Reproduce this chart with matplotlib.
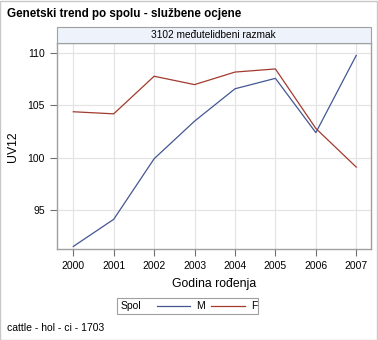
import matplotlib.pyplot as plt
from matplotlib.lines import Line2D
from matplotlib.patches import Rectangle

plt.rcParams['font.family'] = ['Liberation Sans', 'DejaVu Sans']

years = [2000, 2001, 2002, 2003, 2004, 2005, 2006, 2007]
uv12_m = [91.5, 94.1, 99.9, 103.5, 106.6, 107.6, 102.4, 109.8]
uv12_f = [104.4, 104.2, 107.8, 107.0, 108.2, 108.5, 102.8, 99.1]
yticks = [95, 100, 105, 110]

blue = '#445694'
red = '#a23a2e'
frame = '#a0a0a0'

fig = plt.figure(figsize=(3.78, 3.40), dpi=100)
ax = fig.add_axes([0.150, 0.2668, 0.831, 0.606])

ax.plot(years, uv12_m, color=blue, lw=0.9)
ax.plot(years, uv12_f, color=red, lw=0.9)

ax.set_xlim(1999.59, 2007.36)
ax.set_ylim(91.23, 110.96)
ax.set_xticks(years)
ax.set_yticks(yticks)
ax.grid(True, color='#e4e4e4', lw=0.9)
ax.set_axisbelow(True)
for s in ax.spines.values():
    s.set_color(frame)
    s.set_linewidth(1.0)
ax.tick_params(colors='#707070', labelcolor='black', labelsize=7.5, length=5, width=0.8)
ax.set_xlabel('Godina rođenja', fontsize=8.8, labelpad=5)
ax.set_ylabel('UV12', fontsize=8.8, labelpad=6)

# panel header strip above the axes
fig.patches.append(Rectangle((0.150, 0.8726), 0.831, 0.048, transform=fig.transFigure,
                             facecolor='#eef2fa', edgecolor=frame, lw=0.8))
fig.text(0.5655, 0.8966, '3102 međutelidbeni razmak', ha='center', va='center', fontsize=7.3)

fig.text(0.019, 0.958, 'Genetski trend po spolu - službene ocjene', ha='left', va='center',
         fontsize=8.4, fontweight='bold')
fig.text(0.019, 0.035, 'cattle - hol - ci - 1703', ha='left', va='center', fontsize=7.5)

# legend: title on the left, then the two line entries
fig.patches.append(Rectangle((0.3095, 0.0765), 0.373, 0.047, transform=fig.transFigure,
                             facecolor='white', edgecolor=frame, lw=0.8))
fig.text(0.320, 0.099, 'Spol', ha='left', va='center', fontsize=7.5)
for (x0, x1, xt, c, name) in [(0.415, 0.503, 0.518, blue, 'M'), (0.558, 0.648, 0.664, red, 'F')]:
    fig.add_artist(Line2D([x0, x1], [0.1, 0.1], transform=fig.transFigure, color=c, lw=0.9))
    fig.text(xt, 0.099, name, ha='left', va='center', fontsize=7.5)

fig.patches.append(Rectangle((0.001, 0.001), 0.997, 0.997, transform=fig.transFigure,
                             facecolor='none', edgecolor='#c8c8c8', lw=1.0))

fig.savefig('out.png', dpi=100)
